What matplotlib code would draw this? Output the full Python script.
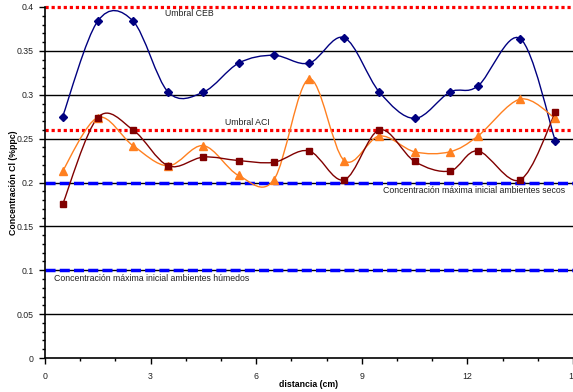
import matplotlib
matplotlib.use('Agg')
import matplotlib.pyplot as plt
from matplotlib.path import Path
from matplotlib.patches import PathPatch
from matplotlib.ticker import MultipleLocator, FuncFormatter
import numpy as np

plt.rcParams['font.family'] = ['Liberation Sans', 'DejaVu Sans']

# distance of each sample (cm)
distancia = [0.5, 1.5, 2.5, 3.5, 4.5, 5.5, 6.5, 7.5, 8.5, 9.5, 10.5, 11.5, 12.3, 13.5, 14.5]
# chloride concentration (% ppc) for the three series
serie_azul = [0.275, 0.384, 0.384, 0.303, 0.303, 0.336, 0.345, 0.336, 0.365, 0.303,
              0.273, 0.303, 0.310, 0.364, 0.247]
serie_naranja = [0.213, 0.274, 0.242, 0.219, 0.242, 0.208, 0.203, 0.318, 0.225, 0.253,
                 0.235, 0.235, 0.253, 0.295, 0.273]
serie_granate = [0.175, 0.274, 0.260, 0.219, 0.229, 0.225, 0.223, 0.236, 0.203, 0.260,
                 0.224, 0.213, 0.236, 0.203, 0.280]

umbral_ceb = 0.4
umbral_aci = 0.26
max_secos = 0.2
max_humedos = 0.1


def smooth_path(x, y):
    # Excel-like smoothed line: cubic bezier segments through the points
    pts = np.column_stack([x, y])
    n = len(pts)
    verts = [pts[0]]
    codes = [Path.MOVETO]
    for i in range(n - 1):
        p0 = pts[i - 1] if i > 0 else pts[i]
        p1 = pts[i]
        p2 = pts[i + 1]
        p3 = pts[i + 2] if i + 2 < n else pts[i + 1]
        c1 = p1 + (p2 - p0) / 6.0
        c2 = p2 - (p3 - p1) / 6.0
        verts += [c1, c2, p2]
        codes += [Path.CURVE4] * 3
    return Path(verts, codes)


fig = plt.figure(figsize=(5.73, 3.92), dpi=100)
ax = fig.add_axes([45 / 573, 34 / 392, 528 / 573, 351 / 392])

# horizontal grid
for g in np.arange(0.05, 0.4, 0.05):
    ax.axhline(g, color='black', lw=1.0, zorder=1)

# reference lines
ax.axhline(umbral_ceb, color='#FF0000', lw=2.3, ls=(0, (1, 0.9)), zorder=2, clip_on=False)
ax.axhline(umbral_aci, color='#FF0000', lw=2.3, ls=(0, (1, 0.9)), zorder=2)
ax.axhline(max_secos, color='#0000FF', lw=2.5, ls=(0, (2.9, 1.2)), zorder=2)
ax.axhline(max_humedos, color='#0000FF', lw=2.5, ls=(0, (2.9, 1.2)), zorder=2)

series = [
    (serie_azul, '#000080', 'D', 3.6),
    (serie_naranja, '#FF8020', '^', 5.2),
    (serie_granate, '#800000', 's', 4.6),
]
for vals, col, mk, ms in series:
    ax.add_patch(PathPatch(smooth_path(distancia, vals), facecolor='none',
                           edgecolor=col, lw=1.0, zorder=3))
    ax.plot(distancia, vals, ls='none', marker=mk, ms=ms, color=col,
            markeredgecolor=col, zorder=4)

fs = 6.3
tc = '#222222'
ax.text(3.4, 0.393, 'Umbral CEB', fontsize=fs, va='center', ha='left', color=tc)
ax.text(5.1, 0.268, 'Umbral ACI', fontsize=fs, va='center', ha='left', color=tc)
ax.text(9.6, 0.191, 'Concentración máxima inicial ambientes secos', fontsize=fs,
        va='center', ha='left', color=tc)
ax.text(0.26, 0.091, 'Concentración máxima inicial ambientes húmedos', fontsize=fs,
        va='center', ha='left', color=tc)

ax.set_xlim(0, 15)
ax.set_ylim(0, 0.4)
ax.xaxis.set_major_locator(MultipleLocator(3))
ax.xaxis.set_minor_locator(MultipleLocator(1))
ax.yaxis.set_major_locator(MultipleLocator(0.05))
ax.yaxis.set_minor_locator(MultipleLocator(0.01))
ax.yaxis.set_major_formatter(FuncFormatter(lambda v, p: '{:g}'.format(round(v, 2))))
ax.tick_params(which='major', direction='out', length=4, width=1, labelsize=fs, colors='black',
               labelcolor=tc)
ax.tick_params(which='minor', direction='out', length=2, width=1, colors='black')
ax.tick_params(axis='x', pad=6)
ax.tick_params(axis='y', pad=4)

ax.spines['top'].set_visible(False)
ax.spines['right'].set_visible(False)
ax.spines['left'].set_linewidth(1.2)
ax.spines['bottom'].set_linewidth(1.2)

ax.set_xlabel('distancia (cm)', fontsize=fs, fontweight='bold')
ax.set_ylabel('Concentración Cl (%ppc)', fontsize=fs, fontweight='bold')
ax.xaxis.set_label_coords(0.5, -0.063)
ax.yaxis.set_label_coords(-0.052, 0.5)

fig.savefig('out.png', dpi=100)
